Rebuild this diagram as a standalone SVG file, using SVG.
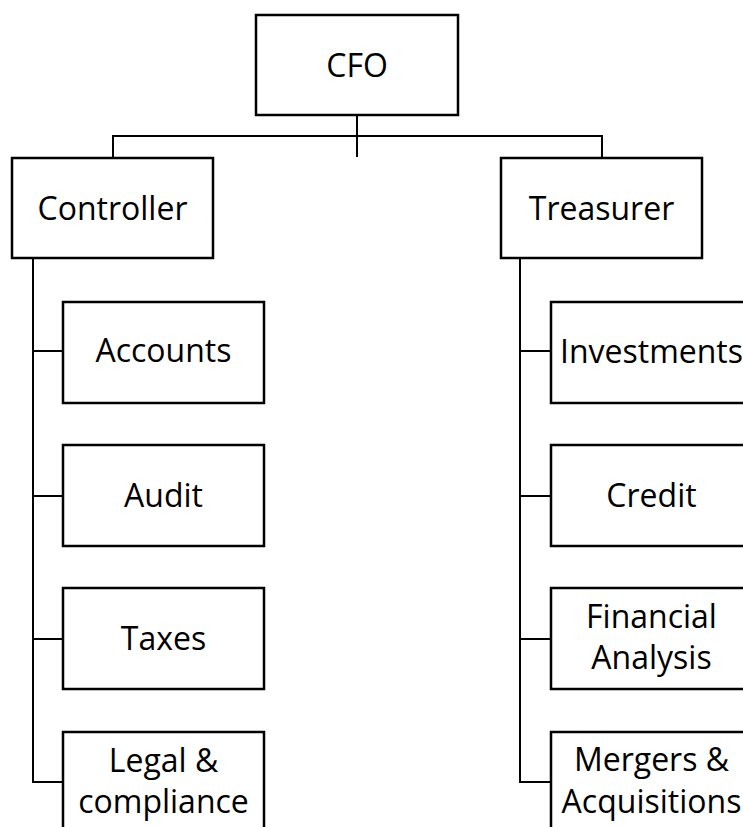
<svg xmlns="http://www.w3.org/2000/svg" width="743" height="827" viewBox="0 0 743 827">
<style>
.box{fill:#fff;stroke:#000;stroke-width:2.5}
.lbl{font-family:"Open Sans","Noto Sans",sans-serif;font-size:32px;fill:#000;text-anchor:middle}
.con{fill:none;stroke:#000;stroke-width:2}
</style>
<rect width="743" height="827" fill="#fff"/>
<g id="connectors">
<path class="con" d="M357 115V157M113 158V136H602V158"/>
<path class="con" d="M33 258V782H63M33 351H63M33 496H63M33 639H63"/>
<path class="con" d="M520 258V782H551M520 351H551M520 496H551M520 639H551"/>
</g>
<g id="cfo"><rect class="box" x="256" y="15" width="202" height="100"/><text class="lbl" x="357" y="77">CFO</text></g>
<g id="controller"><rect class="box" x="12" y="158" width="201" height="100"/><text class="lbl" x="112.5" y="220">Controller</text></g>
<g id="treasurer"><rect class="box" x="501" y="158" width="201" height="100"/><text class="lbl" x="601.5" y="220">Treasurer</text></g>
<g id="accounts"><rect class="box" x="63" y="302" width="201" height="101"/><text class="lbl" x="163.5" y="362">Accounts</text></g>
<g id="audit"><rect class="box" x="63" y="445" width="201" height="101"/><text class="lbl" x="163.5" y="507">Audit</text></g>
<g id="taxes"><rect class="box" x="63" y="588" width="201" height="101"/><text class="lbl" x="163.5" y="650">Taxes</text></g>
<g id="legal"><rect class="box" x="63" y="732" width="201" height="101"/><text class="lbl" x="163.5" y="772">Legal &amp;</text><text class="lbl" x="163.5" y="813">compliance</text></g>
<g id="investments"><rect class="box" x="551" y="302" width="201" height="101"/><text class="lbl" x="651.5" y="363">Investments</text></g>
<g id="credit"><rect class="box" x="551" y="445" width="201" height="101"/><text class="lbl" x="651.5" y="507">Credit</text></g>
<g id="financial"><rect class="box" x="551" y="588" width="201" height="101"/><text class="lbl" x="651.5" y="628">Financial</text><text class="lbl" x="651.5" y="669">Analysis</text></g>
<g id="mergers"><rect class="box" x="551" y="732" width="201" height="101"/><text class="lbl" x="651.5" y="771">Mergers &amp;</text><text class="lbl" x="651.5" y="813">Acquisitions</text></g>
</svg>
